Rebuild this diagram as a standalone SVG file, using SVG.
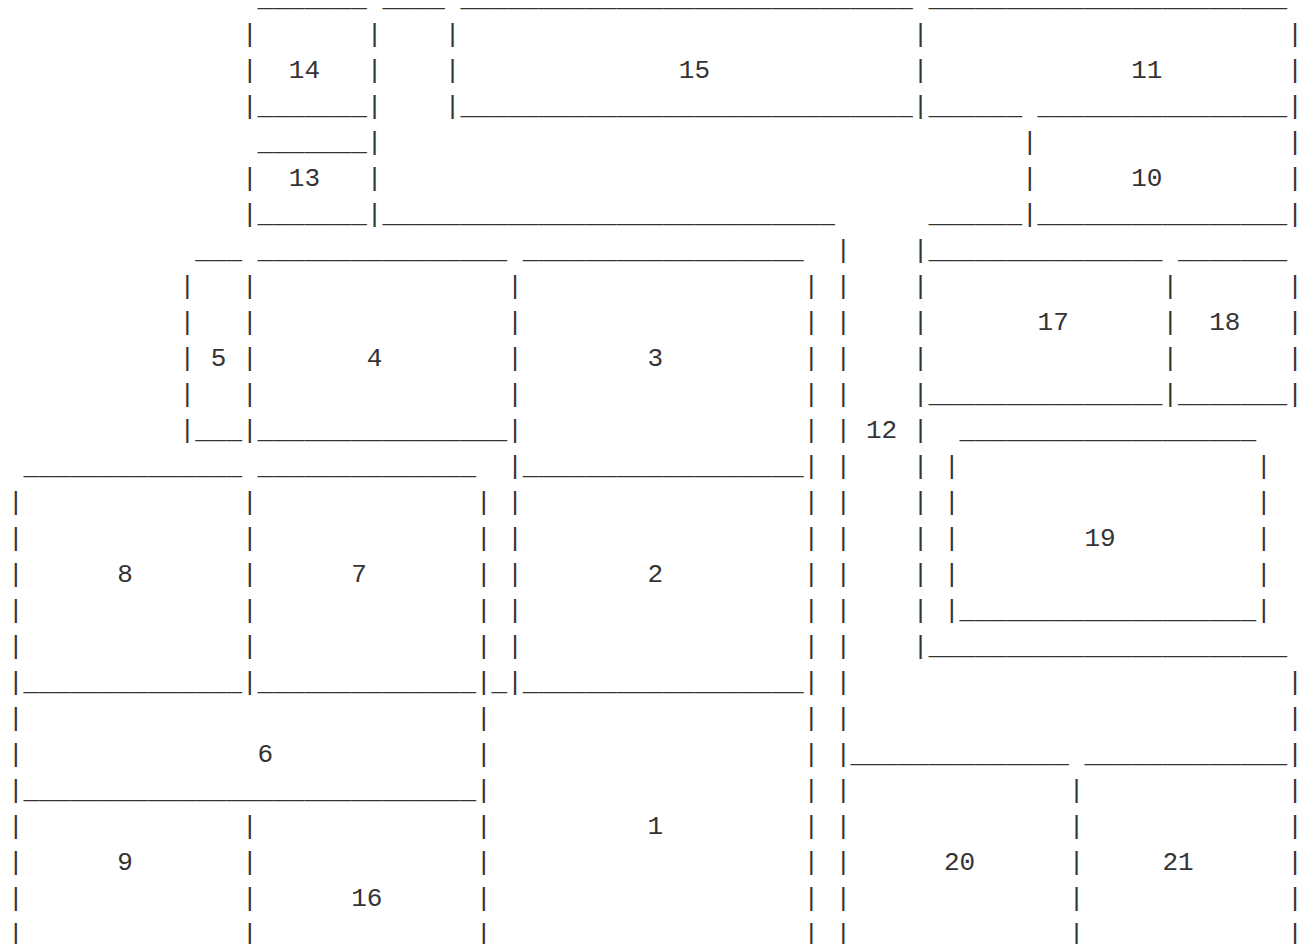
<svg xmlns="http://www.w3.org/2000/svg" width="1298" height="944" viewBox="0 0 1298 944">
<style>
.t{font-family:"Liberation Mono","Courier New",monospace;font-size:26px;fill:#333;white-space:pre}
</style>
<rect width="1298" height="944" fill="#fff"/>
<g id="frame">
<g id="rules">
<text class="t" x="257.6" y="5.5" textLength="109.2" lengthAdjust="spacingAndGlyphs">_______</text>
<text class="t" x="382.4" y="5.5" textLength="62.4" lengthAdjust="spacingAndGlyphs">____</text>
<text class="t" x="460.4" y="5.5" textLength="452.4" lengthAdjust="spacingAndGlyphs">_____________________________</text>
<text class="t" x="928.4" y="5.5" textLength="358.8" lengthAdjust="spacingAndGlyphs">_______________________</text>
<text class="t" x="257.6" y="113.5" textLength="109.2" lengthAdjust="spacingAndGlyphs">_______</text>
<text class="t" x="460.4" y="113.5" textLength="452.4" lengthAdjust="spacingAndGlyphs">_____________________________</text>
<text class="t" x="928.4" y="113.5" textLength="93.6" lengthAdjust="spacingAndGlyphs">______</text>
<text class="t" x="1037.6" y="113.5" textLength="249.6" lengthAdjust="spacingAndGlyphs">________________</text>
<text class="t" x="257.6" y="149.5" textLength="109.2" lengthAdjust="spacingAndGlyphs">_______</text>
<text class="t" x="257.6" y="221.5" textLength="109.2" lengthAdjust="spacingAndGlyphs">_______</text>
<text class="t" x="382.4" y="221.5" textLength="452.4" lengthAdjust="spacingAndGlyphs">_____________________________</text>
<text class="t" x="928.4" y="221.5" textLength="93.6" lengthAdjust="spacingAndGlyphs">______</text>
<text class="t" x="1037.6" y="221.5" textLength="249.6" lengthAdjust="spacingAndGlyphs">________________</text>
<text class="t" x="195.2" y="257.5" textLength="46.8" lengthAdjust="spacingAndGlyphs">___</text>
<text class="t" x="257.6" y="257.5" textLength="249.6" lengthAdjust="spacingAndGlyphs">________________</text>
<text class="t" x="522.8" y="257.5" textLength="280.8" lengthAdjust="spacingAndGlyphs">__________________</text>
<text class="t" x="928.4" y="257.5" textLength="234" lengthAdjust="spacingAndGlyphs">_______________</text>
<text class="t" x="1178" y="257.5" textLength="109.2" lengthAdjust="spacingAndGlyphs">_______</text>
<text class="t" x="928.4" y="401.5" textLength="234" lengthAdjust="spacingAndGlyphs">_______________</text>
<text class="t" x="1178" y="401.5" textLength="109.2" lengthAdjust="spacingAndGlyphs">_______</text>
<text class="t" x="195.2" y="437.5" textLength="46.8" lengthAdjust="spacingAndGlyphs">___</text>
<text class="t" x="257.6" y="437.5" textLength="249.6" lengthAdjust="spacingAndGlyphs">________________</text>
<text class="t" x="959.6" y="437.5" textLength="296.4" lengthAdjust="spacingAndGlyphs">___________________</text>
<text class="t" x="23.6" y="473.5" textLength="218.4" lengthAdjust="spacingAndGlyphs">______________</text>
<text class="t" x="257.6" y="473.5" textLength="218.4" lengthAdjust="spacingAndGlyphs">______________</text>
<text class="t" x="522.8" y="473.5" textLength="280.8" lengthAdjust="spacingAndGlyphs">__________________</text>
<text class="t" x="959.6" y="617.5" textLength="296.4" lengthAdjust="spacingAndGlyphs">___________________</text>
<text class="t" x="928.4" y="653.5" textLength="358.8" lengthAdjust="spacingAndGlyphs">_______________________</text>
<text class="t" x="23.6" y="689.5" textLength="218.4" lengthAdjust="spacingAndGlyphs">______________</text>
<text class="t" x="257.6" y="689.5" textLength="218.4" lengthAdjust="spacingAndGlyphs">______________</text>
<text class="t" x="491.6" y="689.5">_</text>
<text class="t" x="522.8" y="689.5" textLength="280.8" lengthAdjust="spacingAndGlyphs">__________________</text>
<text class="t" x="850.4" y="761.5" textLength="218.4" lengthAdjust="spacingAndGlyphs">______________</text>
<text class="t" x="1084.4" y="761.5" textLength="202.8" lengthAdjust="spacingAndGlyphs">_____________</text>
<text class="t" x="23.6" y="797.5" textLength="452.4" lengthAdjust="spacingAndGlyphs">_____________________________</text>
</g>
<g id="bars">
<text class="t" y="41.5" x="242 366.8 444.8 912.8 1287.2">|||||</text>
<text class="t" y="77.5" x="242 366.8 444.8 912.8 1287.2">|||||</text>
<text class="t" y="113.5" x="242 366.8 444.8 912.8 1287.2">|||||</text>
<text class="t" y="149.5" x="366.8 1022 1287.2">|||</text>
<text class="t" y="185.5" x="242 366.8 1022 1287.2">||||</text>
<text class="t" y="221.5" x="242 366.8 1022 1287.2">||||</text>
<text class="t" y="257.5" x="835.6 912.8">||</text>
<text class="t" y="293.5" x="179.6 242 507.2 803.6 835.6 912.8 1162.4 1287.2">||||||||</text>
<text class="t" y="329.5" x="179.6 242 507.2 803.6 835.6 912.8 1162.4 1287.2">||||||||</text>
<text class="t" y="365.5" x="179.6 242 507.2 803.6 835.6 912.8 1162.4 1287.2">||||||||</text>
<text class="t" y="401.5" x="179.6 242 507.2 803.6 835.6 912.8 1162.4 1287.2">||||||||</text>
<text class="t" y="437.5" x="179.6 242 507.2 803.6 835.6 912.8">||||||</text>
<text class="t" y="473.5" x="507.2 803.6 835.6 912.8 944 1256">||||||</text>
<text class="t" y="509.5" x="8 242 476 507.2 803.6 835.6 912.8 944 1256">|||||||||</text>
<text class="t" y="545.5" x="8 242 476 507.2 803.6 835.6 912.8 944 1256">|||||||||</text>
<text class="t" y="581.5" x="8 242 476 507.2 803.6 835.6 912.8 944 1256">|||||||||</text>
<text class="t" y="617.5" x="8 242 476 507.2 803.6 835.6 912.8 944 1256">|||||||||</text>
<text class="t" y="653.5" x="8 242 476 507.2 803.6 835.6 912.8">|||||||</text>
<text class="t" y="689.5" x="8 242 476 507.2 803.6 835.6 1287.2">|||||||</text>
<text class="t" y="725.5" x="8 476 803.6 835.6 1287.2">|||||</text>
<text class="t" y="761.5" x="8 476 803.6 835.6 1287.2">|||||</text>
<text class="t" y="797.5" x="8 476 803.6 835.6 1068.8 1287.2">||||||</text>
<text class="t" y="833.5" x="8 242 476 803.6 835.6 1068.8 1287.2">|||||||</text>
<text class="t" y="869.5" x="8 242 476 803.6 835.6 1068.8 1287.2">|||||||</text>
<text class="t" y="905.5" x="8 242 476 803.6 835.6 1068.8 1287.2">|||||||</text>
<text class="t" y="941.5" x="8 242 476 803.6 835.6 1068.8 1287.2">|||||||</text>
</g>
</g>
<g id="node-14"><text class="t" x="288.8" y="77.5">14</text></g>
<g id="node-15"><text class="t" x="678.8" y="77.5">15</text></g>
<g id="node-11"><text class="t" x="1131.2" y="77.5">11</text></g>
<g id="node-13"><text class="t" x="288.8" y="185.5">13</text></g>
<g id="node-10"><text class="t" x="1131.2" y="185.5">10</text></g>
<g id="node-17"><text class="t" x="1037.6" y="329.5">17</text></g>
<g id="node-18"><text class="t" x="1209.2" y="329.5">18</text></g>
<g id="node-5"><text class="t" x="210.8" y="365.5">5</text></g>
<g id="node-4"><text class="t" x="366.8" y="365.5">4</text></g>
<g id="node-3"><text class="t" x="647.6" y="365.5">3</text></g>
<g id="node-12"><text class="t" x="866" y="437.5">12</text></g>
<g id="node-19"><text class="t" x="1084.4" y="545.5">19</text></g>
<g id="node-8"><text class="t" x="117.2" y="581.5">8</text></g>
<g id="node-7"><text class="t" x="351.2" y="581.5">7</text></g>
<g id="node-2"><text class="t" x="647.6" y="581.5">2</text></g>
<g id="node-6"><text class="t" x="257.6" y="761.5">6</text></g>
<g id="node-1"><text class="t" x="647.6" y="833.5">1</text></g>
<g id="node-9"><text class="t" x="117.2" y="869.5">9</text></g>
<g id="node-20"><text class="t" x="944" y="869.5">20</text></g>
<g id="node-21"><text class="t" x="1162.4" y="869.5">21</text></g>
<g id="node-16"><text class="t" x="351.2" y="905.5">16</text></g>
<g id="connectors"></g>
</svg>
